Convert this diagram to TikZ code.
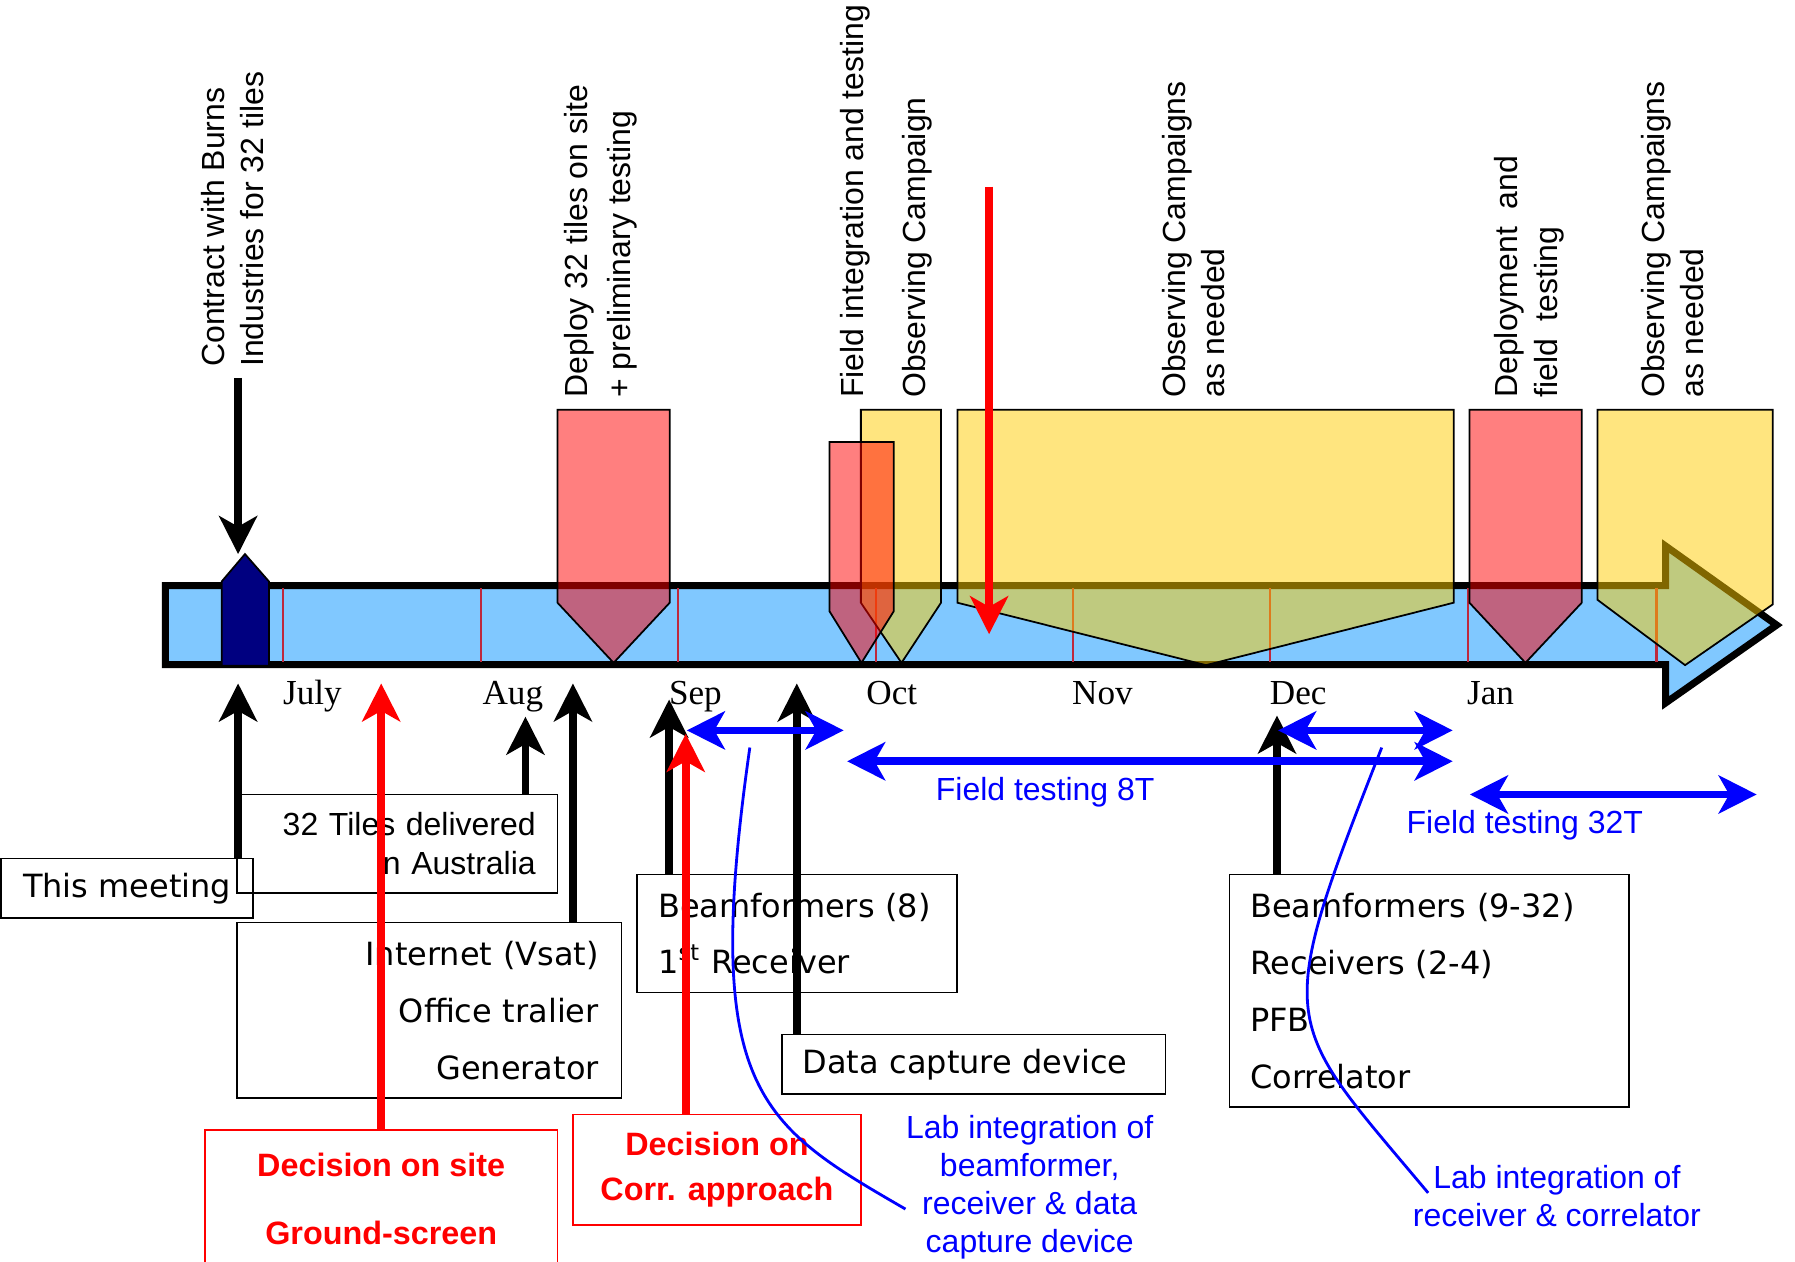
\documentclass[tikz,border=0pt]{standalone}
\usepackage{fontspec}
\setmainfont{Liberation Sans}
\newfontfamily\boxfont{DejaVu Sans}
\newfontfamily\monthfont{Liberation Serif}
\usetikzlibrary{arrows.meta, positioning}

\definecolor{barblue}{RGB}{128,200,255}
\definecolor{ylw}{RGB}{255,204,0}
\definecolor{tickred}{RGB}{190,40,60}
\definecolor{navymark}{RGB}{0,0,128}

\tikzset{
  lbl/.style = {rotate=90, anchor=west, align=left, inner sep=0, font=\fontsize{9.1}{11.2}\selectfont},
  mon/.style = {anchor=base, inner sep=0, font=\monthfont\fontsize{10}{12}\selectfont},
  pent/.style = {draw, line width=0.5pt, fill opacity=0.5},
  box/.style = {draw, line width=0.45pt, inner ysep=0, font=\boxfont\fontsize{9.1}{16.2}\selectfont},
  redbox/.style = {draw=red, line width=0.45pt, text=red, align=center, inner sep=0},
  bluetxt/.style = {text=blue, align=center, inner sep=0, font=\fontsize{9.1}{10.85}\selectfont},
  arr/.style = {-{Stealth[length=10.8pt, width=10.8pt, inset=3pt]}, line width=2.2pt},
  dbl/.style = {{Stealth[length=10.8pt, width=10.8pt, inset=3pt]}-{Stealth[length=10.8pt, width=10.8pt, inset=3pt]}, blue, line width=2.2pt},
  link/.style = {blue, line width=0.8pt}
}

\begin{document}
\begin{tikzpicture}[x=0.11448mm, y=-0.11448mm]
\useasboundingbox (0,0) rectangle (1568,1102);

% time line
\draw[line width=2pt, fill=barblue] (144.5,511.5) -- (1455,511.5) -- (1455,477) -- (1552,546)
  -- (1455,614) -- (1455,580.5) -- (144.5,580.5) -- cycle;
\foreach \x in {247.5,420,592.5,765,937,1109.5,1282,1447}
  \draw[tickred, line width=0.6pt] (\x,514) -- (\x,578);
\foreach \m/\x in {July/273, Aug/448, Sep/607.5, Oct/779, Nov/963, Dec/1134, Jan/1302}
  \node[mon] (\m) at (\x,615) {\m};

% this meeting marker
\draw[fill=navymark, line width=0.5pt] (193.6,581.5) -- (193.6,508) -- (214,484) -- (235,508) -- (235,581.5) -- cycle;

% activities
\draw[pent, fill=red] (487,358) -- (585,358) -- (585,526.5) -- (536,579) -- (487,526.5) -- cycle;
\draw[pent, fill=ylw] (752,358) -- (822,358) -- (822,526.5) -- (787.5,579) -- (752,526.5) -- cycle;
\draw[pent, fill=red] (724.6,386) -- (780.7,386) -- (780.7,534) -- (752.5,579) -- (724.6,534) -- cycle;
\draw[pent, fill=ylw] (836.3,358) -- (1269.8,358) -- (1269.8,526.5) -- (1053.5,581) -- (836.3,526.5) -- cycle;
\draw[pent, fill=red] (1283.6,358) -- (1381.7,358) -- (1381.7,526.5) -- (1332.5,579) -- (1283.6,526.5) -- cycle;
\draw[pent, fill=ylw] (1395.5,358) -- (1548.5,358) -- (1548.5,528) -- (1472,581) -- (1395.5,524) -- cycle;

\node[lbl] (contract) at (203,321) {Contract with Burns\\Industries for 32 tiles};
\node[lbl, font=\fontsize{9.1}{12.2}\selectfont] (deploy) at (525,348) {Deploy 32 tiles on site\\+ preliminary testing};
\node[lbl] (fieldint) at (747,348) {Field integration and testing};
\node[lbl] (obs1) at (801,348) {Observing Campaign};
\node[lbl] (obs2) at (1042.5,348) {Observing Campaigns\\as needed};
\node[lbl] (deploy32) at (1335.7,348) {Deployment\ \ and\\field\ \ testing};
\node[lbl] (obs3) at (1460.8,348) {Observing Campaigns\\as needed};

\coordinate (cStart) at (208,330);
\coordinate (cTip) at (208,484);
\draw[arr] (cStart) -- (cTip);
\coordinate (rStart) at (864,163);
\coordinate (rTip) at (864,554);
\draw[arr, red] (rStart) -- (rTip);

% boxes below
\node[box, minimum width=25.19mm, minimum height=5.95mm] (meet) at (111,776) {This meeting};
\node[box, font=\normalfont\fontsize{9.1}{11.07}\selectfont, text width=27.7mm, inner xsep=2.18mm,
  minimum height=9.85mm, align=right] (tiles) at (347,737) {32 Tiles delivered\\in Australia};
\node[box, text width=33.89mm, inner xsep=2.29mm, minimum height=17.52mm, align=right] (net) at (375,882.5)
  {Internet (Vsat)\\Office tralier\\Generator};
\node[box, text width=27.77mm, inner xsep=2.1mm, minimum height=11.79mm, align=left] (bf8) at (696.3,815.5)
  {Beamformers (8)\\1\textsuperscript{st} Receiver};
\node[box, text width=34.23mm, inner xsep=2.06mm, minimum height=5.95mm, align=left] (data) at (850.5,929.65)
  {Data capture device};
\node[box, text width=35.83mm, inner xsep=2.06mm, minimum height=23.24mm, align=left] (bf32) at (1248.5,865.5)
  {Beamformers (9-32)\\Receivers (2-4)\\PFB\\Correlator};
\node[redbox, minimum width=35.26mm, minimum height=13.85mm, font=\bfseries\fontsize{9.2}{19.2}\selectfont] (site)
  at (333,1047.5) {Decision on site\\Ground-screen};
\node[redbox, minimum width=28.79mm, minimum height=11.05mm, font=\bfseries\fontsize{9.2}{12.7}\selectfont] (corr)
  at (626.25,1021.75) {Decision on\\Corr. approach};

\node[bluetxt] (ft8) at (913,692) {Field testing 8T};
\node[bluetxt] (ft32) at (1332,721) {Field testing 32T};
\node[bluetxt] (labA) at (899.5,1037) {Lab integration of\\beamformer,\\receiver \& data\\capture device};
\node[bluetxt] (labB) at (1360,1044.5) {Lab integration of\\receiver \& correlator};

% milestones
\coordinate (tMeet) at (208,597);
\coordinate (tTiles) at (459,626);
\coordinate (tNet) at (500.5,597);
\coordinate (tBf8) at (584.5,611);
\coordinate (tData) at (696,597);
\coordinate (tBf32) at (1115.5,625);
\coordinate (tSite) at (333,597);
\coordinate (tCorr) at (599,641);
\draw[arr] (tMeet |- meet.north) -- (tMeet);
\draw[arr] (tTiles |- tiles.north) -- (tTiles);
\draw[arr] (tNet |- net.north) -- (tNet);
\draw[arr] (tBf8 |- bf8.north) -- (tBf8);
\draw[arr] (tData |- data.north) -- (tData);
\draw[arr] (tBf32 |- bf32.north) -- (tBf32);
\draw[arr, red] (tSite |- site.north) -- (tSite);
\draw[arr, red] (tCorr |- corr.north) -- (tCorr);

% testing periods
\coordinate (bA1) at (600,638);
\coordinate (bA2) at (737,638);
\coordinate (bB1) at (740,665);
\coordinate (bB2) at (1269,665);
\coordinate (bC1) at (1116.5,638);
\coordinate (bC2) at (1269,638);
\coordinate (bD1) at (1284,694);
\coordinate (bD2) at (1534.5,694);
\draw[dbl] (bA1) -- (bA2);
\draw[dbl] (bB1) -- (bB2);
\draw[dbl] (bC1) -- (bC2);
\draw[dbl] (bD1) -- (bD2);

\coordinate (cA) at (655,653);
\draw[link] (cA) .. controls (612,953) and (663,982) .. (labA.190);
\coordinate (cB) at (1207,653);
\coordinate (cB2) at (1247.5,1042);
\draw[link] (cB) .. controls (1110,900) and (1119.5,889) .. (cB2);
\end{tikzpicture}
\end{document}
